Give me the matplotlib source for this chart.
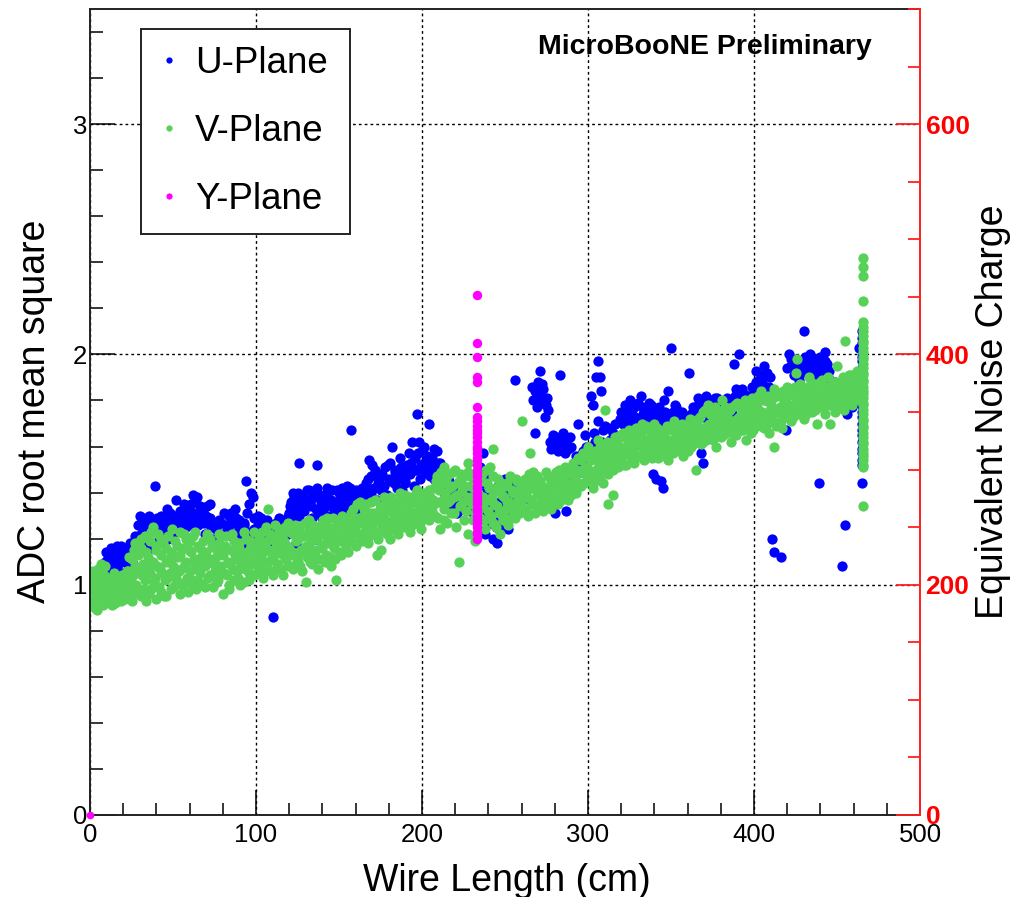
import matplotlib.pyplot as plt
import numpy as np
from matplotlib.lines import Line2D
from matplotlib.ticker import MultipleLocator, FormatStrFormatter

plt.rcParams['font.family'] = ['Liberation Sans', 'DejaVu Sans']

# noise per wire: (wire length [cm], ADC rms)
u_plane = [
    (3, 1.00), (5, 1.03), (6, 1.07), (8, 1.05), (9, 1.10), (10, 1.04), (11, 1.12), (12, 1.08),
    (13, 1.15), (14, 1.06), (15, 1.11), (16, 1.17), (17, 1.09), (18, 1.13), (19, 1.05), (20, 1.16),
    (21, 1.10), (22, 1.14), (23, 1.07), (24, 1.18), (25, 1.12), (26, 1.09), (27, 1.21),
    (28, 1.16), (29, 1.26), (30, 1.30), (31, 1.22), (32, 1.29), (33, 1.18), (34, 1.25), (35, 1.20),
    (36, 1.27), (37, 1.16), (39, 1.43), (40, 1.23), (41, 1.19), (42, 1.26), (43, 1.30), (44, 1.21),
    (45, 1.24), (46, 1.28), (47, 1.20), (48, 1.31), (49, 1.25), (50, 1.22), (51, 1.29), (52, 1.37),
    (53, 1.26), (54, 1.32), (55, 1.23), (56, 1.28), (57, 1.30), (58, 1.25), (59, 1.33), (60, 1.27),
    (61, 1.35), (62, 1.39), (63, 1.36), (63, 1.29), (64, 1.31), (65, 1.26), (66, 1.34), (67, 1.28),
    (68, 1.32), (69, 1.22), (70, 1.30), (71, 1.27), (72, 1.35), (73, 1.25), (74, 1.20),
    (76, 1.24), (77, 1.18), (78, 1.28), (80, 1.22), (82, 1.26), (84, 1.30), (85, 1.31), (86, 1.27),
    (87, 1.20), (88, 1.29), (89, 1.23), (90, 1.25), (91, 1.17), (92, 1.21), (93, 1.27), (94, 1.45),
    (95, 1.19), (96, 1.35), (97, 1.40), (98, 1.38), (99, 1.24),
    (100, 1.22), (101, 1.26), (102, 1.18), (103, 1.29), (104, 1.27), (105, 1.21), (106, 1.16),
    (107, 1.24), (108, 1.19), (110, 0.86), (111, 1.23), (112, 1.27), (113, 1.15), (115, 1.25),
    (116, 1.20), (118, 1.28), (119, 1.22),
    (120, 1.31), (121, 1.36), (122, 1.29), (123, 1.38), (124, 1.33), (124, 1.18), (125, 1.40),
    (126, 1.53), (126, 1.30), (127, 1.35), (128, 1.22), (128, 1.39), (129, 1.32), (130, 1.27),
    (130, 1.15), (131, 1.37), (132, 1.41), (133, 1.34), (134, 1.12), (134, 1.29), (135, 1.38),
    (136, 1.20), (136, 1.33), (137, 1.52), (137, 1.40), (138, 1.31), (139, 1.36), (140, 1.29),
    (141, 1.39), (142, 1.34), (143, 1.42), (144, 1.30), (145, 1.37), (146, 1.41), (147, 1.33),
    (148, 1.36), (149, 1.30), (150, 1.40), (151, 1.35), (152, 1.42), (153, 1.31), (154, 1.38),
    (155, 1.43), (156, 1.34), (157, 1.67), (157, 1.39), (158, 1.32), (159, 1.37), (160, 1.41),
    (161, 1.35), (162, 1.30), (163, 1.39), (164, 1.42),
    (165, 1.38), (166, 1.44), (167, 1.40), (168, 1.54), (169, 1.47), (170, 1.52), (171, 1.42),
    (172, 1.49), (173, 1.37), (174, 1.45), (175, 1.41), (176, 1.48), (177, 1.43), (178, 1.51),
    (179, 1.39), (180, 1.46), (181, 1.53), (182, 1.60), (183, 1.44), (184, 1.50), (185, 1.42),
    (186, 1.47), (187, 1.55), (188, 1.41), (189, 1.49), (190, 1.45), (191, 1.52), (192, 1.57),
    (193, 1.48), (194, 1.62), (195, 1.43), (196, 1.55), (197, 1.74), (197, 1.50), (198, 1.62),
    (199, 1.46), (200, 1.58), (201, 1.53), (202, 1.49), (203, 1.56), (204, 1.70), (204, 1.51),
    (205, 1.47), (206, 1.55), (207, 1.59), (208, 1.50), (209, 1.58), (210, 1.45), (211, 1.53),
    (213, 1.36), (215, 1.42), (217, 1.33), (219, 1.39), (221, 1.31), (223, 1.44), (225, 1.35),
    (227, 1.40), (229, 1.32), (231, 1.47),
    (234, 1.38), (235, 1.51), (236, 1.30), (237, 1.57), (237, 1.44), (238, 1.22), (239, 1.34),
    (240, 1.48), (241, 1.27), (242, 1.40), (243, 1.20), (244, 1.31), (245, 1.18), (246, 1.43),
    (247, 1.25), (248, 1.36), (249, 1.29), (250, 1.46), (251, 1.33), (252, 1.24), (253, 1.40),
    (254, 1.30), (255, 1.37), (256, 1.89), (257, 1.35), (258, 1.42),
    (264, 1.45), (265, 1.37), (266, 1.86), (267, 1.80), (268, 1.66), (268, 1.84), (269, 1.77),
    (270, 1.88), (271, 1.93), (271, 1.82), (272, 1.79), (273, 1.85), (274, 1.73), (275, 1.81),
    (276, 1.76), (277, 1.62), (278, 1.59), (279, 1.65), (280, 1.31), (280, 1.61), (281, 1.64),
    (282, 1.58), (283, 1.91), (283, 1.63), (284, 1.60), (285, 1.66), (286, 1.57), (287, 1.32),
    (287, 1.62), (288, 1.59), (289, 1.64), (290, 1.45), (291, 1.42), (293, 1.56), (294, 1.70),
    (295, 1.54),
    (296, 1.49), (298, 1.65), (299, 1.60), (300, 1.55), (302, 1.82), (303, 1.78), (304, 1.62),
    (305, 1.90), (306, 1.97), (306, 1.71), (307, 1.90), (308, 1.84), (309, 1.67), (310, 1.69),
    (311, 1.58), (313, 1.63), (315, 1.66), (317, 1.60), (319, 1.72),
    (320, 1.75), (321, 1.70), (322, 1.78), (323, 1.68), (324, 1.74), (325, 1.80), (326, 1.72),
    (327, 1.69), (328, 1.77), (329, 1.71), (330, 1.79), (331, 1.67), (332, 1.82), (333, 1.74),
    (334, 1.70), (335, 1.76), (336, 1.68), (337, 1.73), (338, 1.78), (339, 1.48), (339, 1.71),
    (340, 1.75), (341, 1.46), (342, 1.69), (343, 1.77), (344, 1.45), (345, 1.42), (345, 1.72),
    (346, 1.80), (347, 1.70), (348, 1.84), (349, 1.74), (350, 2.03), (350, 1.68), (351, 1.75),
    (352, 1.71), (353, 1.77), (355, 1.69), (357, 1.73), (359, 1.67),
    (361, 1.92), (362, 1.74), (364, 1.70), (365, 1.77), (366, 1.81), (367, 1.75), (368, 1.57),
    (369, 1.53), (369, 1.79), (370, 1.73), (371, 1.82), (372, 1.76), (373, 1.71), (374, 1.80),
    (375, 1.74), (376, 1.78), (377, 1.72), (378, 1.81), (379, 1.75), (380, 1.69), (381, 1.77),
    (383, 1.73), (385, 1.79), (387, 1.74), (388, 1.96), (389, 1.85), (390, 1.80), (391, 2.00),
    (391, 1.83), (393, 1.85), (395, 1.78), (397, 1.82), (398, 1.82), (399, 1.76),
    (401, 1.93), (402, 1.83), (403, 1.89), (404, 1.81), (405, 1.88), (406, 1.95), (407, 1.80),
    (408, 1.92), (409, 1.86), (410, 1.84), (411, 1.20), (412, 1.14), (416, 1.12), (419, 1.67),
    (421, 2.00), (422, 1.95), (423, 1.96), (424, 1.91), (425, 1.98), (426, 1.93), (427, 1.89),
    (428, 1.97), (429, 1.94), (430, 2.10), (431, 1.99), (432, 1.92), (433, 1.95), (434, 2.00),
    (435, 1.88), (436, 1.96), (437, 1.90), (438, 1.94), (439, 1.88), (439, 1.44), (440, 1.99),
    (441, 1.93), (442, 1.91), (443, 2.01), (444, 1.96), (445, 1.93),
    (446, 1.87), (448, 1.82), (450, 1.85), (452, 1.79), (453, 1.08), (455, 1.26), (456, 1.74),
    (457, 1.81), (459, 1.77), (461, 1.84), (463, 2.03), (463, 1.79),
    # second channel of each wire pair
    (4.5, 1.05), (7.5, 1.09), (9.5, 1.14), (11.5, 1.06), (12.5, 1.16), (14.5, 1.12), (16.5, 1.08),
    (18.5, 1.17), (20.5, 1.12), (22.5, 1.06), (24.5, 1.15),
    (29.5, 1.20), (31.5, 1.28), (33.5, 1.23), (35.5, 1.30), (37.5, 1.24), (40.5, 1.29),
    (42.5, 1.21), (44.5, 1.27), (46.5, 1.33), (48.5, 1.26), (50.5, 1.30), (52.5, 1.24),
    (54.5, 1.28), (56.5, 1.35), (58.5, 1.29), (60.5, 1.32), (62.5, 1.26), (64.5, 1.38),
    (66.5, 1.30), (68.5, 1.27), (70.5, 1.34), (72.5, 1.29), (74.5, 1.26),
    (79, 1.27), (81, 1.31), (83, 1.24), (85.5, 1.21), (87.5, 1.33), (89.5, 1.28), (92.5, 1.26),
    (94.5, 1.31), (96.5, 1.23), (98.5, 1.29), (101.5, 1.30), (103.5, 1.24), (106.5, 1.28),
    (109, 1.23), (110.5, 1.26), (112.5, 1.21), (114, 1.29), (117, 1.25), (119.5, 1.30),
    (120.5, 1.34), (122.5, 1.40), (124.5, 1.36), (126.5, 1.38), (128.5, 1.33), (130.5, 1.41),
    (132.5, 1.36), (134.5, 1.39), (136.5, 1.42), (138.5, 1.38), (140.5, 1.33), (142.5, 1.40),
    (144.5, 1.36), (146.5, 1.34), (148.5, 1.41), (150.5, 1.37), (152.5, 1.33), (154.5, 1.40),
    (156.5, 1.42), (158.5, 1.38), (160.5, 1.33), (162.5, 1.40), (164.5, 1.36),
    (165.5, 1.42), (167.5, 1.46), (169.5, 1.40), (171.5, 1.50), (173.5, 1.44), (175.5, 1.47),
    (177.5, 1.39), (179.5, 1.52), (181.5, 1.45), (183.5, 1.49), (185.5, 1.46), (187.5, 1.51),
    (189.5, 1.44), (191.5, 1.48), (193.5, 1.53), (195.5, 1.50), (197.5, 1.57), (199.5, 1.52),
    (201.5, 1.60), (203.5, 1.48), (205.5, 1.52), (207.5, 1.46), (209.5, 1.53), (211.5, 1.49),
    (214, 1.39), (216, 1.45), (218, 1.35), (220, 1.42), (222, 1.37), (224, 1.33), (226, 1.41),
    (228, 1.36), (230, 1.38), (232, 1.42), (234.5, 1.45), (236.5, 1.40), (238.5, 1.37),
    (240.5, 1.33), (242.5, 1.28), (244.5, 1.25), (246.5, 1.36), (248.5, 1.42), (250.5, 1.30),
    (252.5, 1.35), (254.5, 1.44),
    (269.5, 1.83), (272.5, 1.87), (274.5, 1.78), (278.5, 1.63), (281.5, 1.60), (284.5, 1.64),
    (286.5, 1.61), (289.5, 1.60), (292.5, 1.53), (297, 1.58),
    (301, 1.60), (303.5, 1.66), (308.5, 1.62), (312, 1.68), (316, 1.70), (318, 1.64),
    (320.5, 1.72), (322.5, 1.74), (324.5, 1.70), (326.5, 1.76), (328.5, 1.73), (330.5, 1.70),
    (332.5, 1.77), (334.5, 1.73), (336.5, 1.79), (340.5, 1.72), (342.5, 1.74), (344.5, 1.69),
    (346.5, 1.75), (348.5, 1.71), (352.5, 1.78), (354.5, 1.73), (356.5, 1.75), (358.5, 1.71),
    (363, 1.77), (366.5, 1.78), (370.5, 1.80), (372.5, 1.73), (374.5, 1.77), (376.5, 1.81),
    (378.5, 1.76), (380.5, 1.79), (382, 1.75), (384, 1.81), (386, 1.77), (388.5, 1.82),
    (390.5, 1.78), (392, 1.80), (394, 1.83), (396, 1.80), (398.5, 1.86), (400, 1.81),
    (401.5, 1.88), (403.5, 1.84), (405.5, 1.91), (407.5, 1.86), (409.5, 1.90), (420, 1.94),
    (422.5, 1.98), (424.5, 1.94), (426.5, 1.97), (428.5, 1.92), (430.5, 1.96), (432.5, 1.99),
    (434.5, 1.93), (436.5, 1.98), (438.5, 1.92), (440.5, 1.95), (442.5, 1.97), (444.5, 1.90),
    (447, 1.84), (449, 1.88), (451, 1.82), (454, 1.86), (458, 1.80), (460, 1.86), (462, 1.82),
]

# longest U wires, all at 465 cm
u_long_rms = [1.44, 1.52, 1.54, 1.57, 1.59, 1.62, 1.65, 1.67, 1.70, 1.73, 1.75, 1.78, 1.81,
              1.83, 1.86, 1.89, 1.91, 1.94, 1.97, 1.99, 2.02, 2.05, 2.07, 2.10]

v_plane = [
    (1, 0.98), (1, 1.02), (2, 0.93), (2, 1.05), (3, 0.99), (3, 0.90), (4, 1.03), (4, 0.96),
    (5, 1.07), (5, 0.94), (6, 1.00), (7, 0.97), (7, 1.04), (8, 0.91), (8, 1.01), (9, 0.95),
    (9, 1.08), (10, 0.99), (10, 1.03),
    (11, 0.93), (11, 1.02), (12, 1.00), (13, 0.96), (13, 1.03), (14, 1.01), (15, 0.92), (15, 0.99),
    (16, 1.00), (17, 1.01), (17, 0.95), (18, 0.97), (19, 1.04), (20, 0.98), (20, 1.03), (21, 0.94),
    (22, 1.02), (22, 1.06), (23, 1.06), (24, 0.99), (25, 1.11), (25, 0.96), (26, 1.04), (27, 1.18),
    (27, 1.08), (28, 1.00), (29, 1.13), (30, 1.05),
    (31, 0.95), (31, 1.16), (32, 1.09), (33, 1.21), (33, 1.02), (34, 0.93), (35, 1.12), (36, 1.05),
    (36, 1.19), (37, 0.98), (38, 1.25), (38, 1.10), (39, 1.03), (40, 0.94), (40, 1.15), (41, 1.22),
    (42, 1.07), (43, 0.97), (43, 1.13), (44, 1.18), (45, 1.02), (46, 1.10), (46, 0.95), (47, 1.21),
    (48, 1.05), (49, 1.14), (50, 0.99), (50, 1.08), (51, 1.19), (52, 1.03), (53, 1.12), (54, 0.96),
    (54, 1.23), (55, 1.07), (56, 1.16), (57, 1.01), (58, 1.10), (58, 1.20), (59, 0.97), (60, 1.06),
    (61, 1.14), (62, 1.02), (62, 1.21), (63, 1.09), (64, 0.98), (65, 1.17), (66, 1.05), (67, 1.12),
    (68, 1.00), (68, 1.19), (69, 1.08), (70, 1.14), (71, 1.03), (72, 1.20), (73, 1.10), (74, 0.99),
    (75, 1.06), (75, 1.16), (76, 1.12), (77, 1.02), (78, 1.18), (79, 1.08), (80, 0.96), (80, 1.13),
    (81, 1.05), (82, 1.21), (83, 1.10), (84, 1.00), (85, 1.15), (86, 1.07), (87, 1.19), (88, 1.11),
    (89, 1.03), (90, 1.16), (91, 1.08), (92, 1.13), (93, 1.01), (94, 1.20), (95, 1.10), (96, 1.05),
    (97, 1.17), (98, 1.12), (99, 1.04), (100, 1.15),
    (101, 1.08), (102, 1.20), (103, 1.12), (104, 1.03), (105, 1.17), (106, 1.25), (107, 1.33),
    (107, 1.10), (108, 1.15), (109, 1.06), (110, 1.21), (111, 1.13), (112, 1.18), (113, 1.09),
    (114, 1.24), (115, 1.14), (116, 1.04), (117, 1.19), (118, 1.11), (119, 1.27), (120, 1.16),
    (121, 1.08), (122, 1.22), (123, 1.13), (124, 1.19), (125, 1.10), (126, 1.25), (127, 1.15),
    (128, 1.06), (129, 1.21), (130, 1.01), (130, 1.17), (131, 1.12), (132, 1.28), (133, 1.19),
    (134, 1.09), (135, 1.23), (136, 1.15), (137, 1.20), (138, 1.11), (139, 1.26), (140, 1.17),
    (141, 1.22), (142, 1.13), (143, 1.29), (144, 1.18), (145, 1.08), (146, 1.24), (147, 1.16),
    (148, 1.02), (148, 1.21), (149, 1.27), (150, 1.14), (151, 1.19), (152, 1.30), (153, 1.23),
    (154, 1.17), (155, 1.25),
    (156, 1.20), (157, 1.31), (158, 1.24), (159, 1.18), (160, 1.28), (161, 1.35), (162, 1.22),
    (163, 1.27), (164, 1.19), (165, 1.33), (166, 1.25), (167, 1.29), (168, 1.21), (169, 1.36),
    (170, 1.26), (171, 1.31), (172, 1.23), (173, 1.13), (174, 1.29), (175, 1.15), (175, 1.34),
    (176, 1.25), (177, 1.38), (178, 1.28), (179, 1.22), (180, 1.32), (181, 1.26), (182, 1.36),
    (183, 1.29), (184, 1.24), (185, 1.34), (186, 1.27), (187, 1.40), (188, 1.31), (189, 1.25),
    (190, 1.35), (191, 1.29), (192, 1.38), (193, 1.32), (194, 1.26), (195, 1.36), (196, 1.30),
    (197, 1.41), (198, 1.33), (199, 1.27), (200, 1.37), (201, 1.31), (202, 1.39), (203, 1.34),
    (204, 1.28), (205, 1.38), (206, 1.32),
    (207, 1.42), (208, 1.30), (209, 1.47), (210, 1.36), (211, 1.24), (212, 1.44), (213, 1.51),
    (213, 1.33), (214, 1.40), (215, 1.27), (216, 1.48), (217, 1.37), (218, 1.43), (219, 1.31),
    (220, 1.50), (221, 1.39), (222, 1.10), (222, 1.45), (223, 1.34), (224, 1.41), (225, 1.28),
    (226, 1.47), (227, 1.38), (228, 1.22), (228, 1.53), (229, 1.43), (230, 1.35), (231, 1.46),
    (232, 1.31), (232, 1.19),
    (234, 1.40), (235, 1.29), (236, 1.48), (237, 1.35), (238, 1.24), (239, 1.44), (240, 1.32),
    (241, 1.51), (242, 1.38), (243, 1.59), (243, 1.27), (244, 1.42), (245, 1.34), (246, 1.46),
    (247, 1.22), (248, 1.39), (249, 1.30), (250, 1.43), (251, 1.36), (252, 1.26), (253, 1.47),
    (254, 1.33), (255, 1.40), (256, 1.29), (257, 1.45), (258, 1.37), (259, 1.31), (260, 1.71),
    (260, 1.42),
    (261, 1.33), (262, 1.46), (263, 1.38), (264, 1.30), (265, 1.57), (265, 1.42), (266, 1.35),
    (267, 1.49), (268, 1.31), (269, 1.40), (270, 1.34), (271, 1.45), (272, 1.37), (273, 1.32),
    (274, 1.42), (275, 1.36), (276, 1.47), (277, 1.39), (278, 1.33), (279, 1.44), (280, 1.38),
    (281, 1.49), (282, 1.35), (283, 1.42), (284, 1.46), (285, 1.39), (286, 1.51), (287, 1.44),
    (288, 1.37), (289, 1.48), (290, 1.42), (291, 1.53), (292, 1.46), (293, 1.40), (294, 1.55),
    (295, 1.49),
    (296, 1.43), (297, 1.57), (298, 1.51), (299, 1.45), (300, 1.60), (301, 1.48), (302, 1.54),
    (303, 1.42), (304, 1.58), (305, 1.50), (306, 1.63), (307, 1.47), (308, 1.55), (309, 1.44),
    (310, 1.76), (310, 1.59), (311, 1.52), (312, 1.35), (312, 1.48), (313, 1.61), (314, 1.55),
    (315, 1.39), (315, 1.50), (316, 1.64), (317, 1.57), (318, 1.51), (319, 1.60), (320, 1.54),
    (321, 1.66), (322, 1.58), (323, 1.52), (324, 1.62), (325, 1.56),
    (326, 1.65), (327, 1.59), (328, 1.53), (329, 1.68), (330, 1.61), (331, 1.56), (332, 1.66),
    (333, 1.60), (334, 1.54), (335, 1.69), (336, 1.62), (337, 1.57), (338, 1.64), (339, 1.59),
    (340, 1.70), (341, 1.63), (342, 1.55), (343, 1.67), (344, 1.61), (345, 1.58), (346, 1.66),
    (347, 1.60), (348, 1.54), (349, 1.68), (350, 1.62), (351, 1.57), (352, 1.71), (353, 1.64),
    (354, 1.59), (355, 1.67), (356, 1.61), (357, 1.56), (358, 1.69), (359, 1.63), (360, 1.58),
    (361, 1.66), (362, 1.60), (363, 1.70), (364, 1.64), (365, 1.50),
    (366, 1.72), (367, 1.66), (368, 1.61), (369, 1.75), (370, 1.68), (371, 1.63), (372, 1.78),
    (373, 1.70), (374, 1.65), (375, 1.73), (376, 1.67), (377, 1.60), (378, 1.76), (379, 1.69),
    (380, 1.64), (381, 1.80), (382, 1.72), (383, 1.66), (384, 1.74), (385, 1.69), (386, 1.62),
    (387, 1.77), (388, 1.71), (389, 1.65), (390, 1.79), (391, 1.73), (392, 1.67), (393, 1.75),
    (394, 1.70), (395, 1.63), (396, 1.78), (397, 1.72), (398, 1.66), (399, 1.81), (400, 1.74),
    (401, 1.69),
    (402, 1.77), (403, 1.71), (404, 1.84), (405, 1.75), (406, 1.68), (407, 1.80), (408, 1.73),
    (409, 1.66), (410, 1.78), (411, 1.72), (412, 1.60), (412, 1.85), (413, 1.76), (414, 1.70),
    (415, 1.82), (416, 1.74), (417, 1.68), (418, 1.79), (419, 1.73), (420, 1.86), (421, 1.77),
    (422, 1.71), (423, 1.83), (424, 1.76), (425, 1.92), (426, 1.98), (426, 1.80),
    (427, 1.74), (428, 1.87), (429, 1.79), (430, 1.72), (431, 1.84), (432, 1.77), (433, 1.90),
    (434, 1.81), (435, 1.75), (436, 1.86), (437, 1.79), (438, 1.70), (439, 1.83), (440, 1.77),
    (441, 1.89), (442, 1.81), (443, 1.74), (444, 1.85), (445, 1.78), (446, 1.70), (447, 1.87),
    (448, 1.80), (449, 1.75), (450, 1.95), (450, 1.84), (451, 1.78), (452, 1.88), (453, 1.81),
    (454, 1.76), (455, 2.06), (455, 1.86), (456, 1.80), (457, 1.91), (458, 1.83), (459, 1.78),
    (460, 1.89), (461, 1.82), (462, 1.93), (463, 1.86), (464, 1.80),
    # second channel of each wire pair
    (0.5, 0.92), (1.5, 1.06), (2.5, 0.97), (3.5, 1.01), (4.5, 0.89), (5.5, 1.00), (6.5, 1.09),
    (7.5, 0.94), (8.5, 1.04), (9.5, 0.97),
    (10.5, 1.01), (11.5, 0.98), (12.5, 0.99), (13.5, 0.91), (14.5, 1.05), (15.5, 1.02),
    (16.5, 0.97), (17.5, 1.03), (18.5, 0.93), (19.5, 1.00), (20.5, 1.01), (21.5, 1.05),
    (22.5, 0.97), (23.5, 1.12), (24.5, 1.03), (25.5, 0.93), (26.5, 1.15), (27.5, 0.99),
    (28.5, 1.07), (29.5, 0.96),
    (30.5, 1.20), (31.5, 1.04), (32.5, 0.98), (33.5, 1.14), (34.5, 1.07), (35.5, 0.96),
    (36.5, 1.23), (37.5, 1.09), (38.5, 1.01), (39.5, 1.17), (40.5, 1.08), (41.5, 0.99),
    (42.5, 1.20), (43.5, 1.05), (44.5, 0.95), (45.5, 1.16), (46.5, 1.03), (47.5, 1.11),
    (48.5, 0.98), (49.5, 1.24), (50.5, 1.12), (51.5, 1.00), (52.5, 1.17), (53.5, 1.06),
    (54.5, 1.13), (55.5, 1.00), (56.5, 1.22), (57.5, 1.09), (58.5, 1.03), (59.5, 1.15),
    (60.5, 1.19), (61.5, 1.00), (62.5, 1.11), (63.5, 1.23), (64.5, 1.07), (65.5, 1.01),
    (66.5, 1.16), (67.5, 1.08), (68.5, 1.13), (69.5, 0.99), (70.5, 1.22), (71.5, 1.11),
    (72.5, 1.04), (73.5, 1.17), (74.5, 1.09), (76.5, 1.01), (77.5, 1.22), (78.5, 1.06),
    (79.5, 1.15), (81.5, 1.17), (82.5, 1.04), (83.5, 0.98), (84.5, 1.09), (85.5, 1.22),
    (86.5, 1.02), (87.5, 1.13), (88.5, 1.06), (89.5, 1.18), (90.5, 1.00), (91.5, 1.11),
    (92.5, 1.23), (93.5, 1.07), (94.5, 1.14), (95.5, 1.02), (96.5, 1.19), (97.5, 1.09),
    (98.5, 1.23), (99.5, 1.13),
    (100.5, 1.05), (101.5, 1.18), (102.5, 1.09), (103.5, 1.23), (104.5, 1.14), (105.5, 1.06),
    (106.5, 1.19), (108.5, 1.22), (109.5, 1.12), (110.5, 1.04), (111.5, 1.26), (112.5, 1.09),
    (113.5, 1.16), (114.5, 1.07), (115.5, 1.21), (116.5, 1.13), (117.5, 1.25), (118.5, 1.17),
    (119.5, 1.08), (120.5, 1.23), (121.5, 1.14), (122.5, 1.07), (123.5, 1.26), (124.5, 1.11),
    (125.5, 1.20), (126.5, 1.08), (127.5, 1.22), (128.5, 1.14), (129.5, 1.27), (131.5, 1.23),
    (132.5, 1.10), (133.5, 1.15), (134.5, 1.26), (135.5, 1.12), (136.5, 1.21), (137.5, 1.07),
    (138.5, 1.24), (139.5, 1.16), (140.5, 1.28), (141.5, 1.10), (142.5, 1.19), (143.5, 1.25),
    (144.5, 1.12), (145.5, 1.21), (146.5, 1.29), (147.5, 1.11), (149.5, 1.19), (150.5, 1.25),
    (151.5, 1.13), (152.5, 1.22), (153.5, 1.18), (154.5, 1.28),
    (155.5, 1.14), (156.5, 1.27), (157.5, 1.21), (158.5, 1.33), (159.5, 1.24), (160.5, 1.17),
    (161.5, 1.29), (162.5, 1.36), (163.5, 1.21), (164.5, 1.30), (165.5, 1.23), (166.5, 1.35),
    (167.5, 1.18), (168.5, 1.27), (169.5, 1.31), (170.5, 1.22), (171.5, 1.37), (172.5, 1.28),
    (173.5, 1.20), (174.5, 1.33), (176.5, 1.30), (177.5, 1.23), (178.5, 1.35), (179.5, 1.27),
    (180.5, 1.20), (181.5, 1.38), (182.5, 1.24), (183.5, 1.33), (184.5, 1.28), (185.5, 1.22),
    (186.5, 1.37), (187.5, 1.30), (188.5, 1.26), (189.5, 1.39), (190.5, 1.28), (191.5, 1.34),
    (192.5, 1.23), (193.5, 1.36), (194.5, 1.31), (195.5, 1.28), (196.5, 1.40), (197.5, 1.29),
    (198.5, 1.35), (199.5, 1.24), (200.5, 1.33), (201.5, 1.40), (202.5, 1.29), (203.5, 1.36),
    (204.5, 1.41), (205.5, 1.30), (206.5, 1.37),
    (207.5, 1.35), (208.5, 1.45), (209.5, 1.29), (210.5, 1.41), (211.5, 1.49), (212.5, 1.37),
    (213.5, 1.28), (214.5, 1.46), (215.5, 1.36), (216.5, 1.42), (217.5, 1.31), (218.5, 1.49),
    (219.5, 1.38), (220.5, 1.25), (221.5, 1.44), (223.5, 1.48), (224.5, 1.36), (225.5, 1.43),
    (226.5, 1.32), (227.5, 1.49), (229.5, 1.38), (230.5, 1.28), (231.5, 1.42),
    (234.5, 1.33), (235.5, 1.45), (236.5, 1.38), (237.5, 1.28), (238.5, 1.50), (239.5, 1.37),
    (240.5, 1.42), (241.5, 1.30), (242.5, 1.47), (243.5, 1.35), (244.5, 1.25), (245.5, 1.41),
    (246.5, 1.31), (247.5, 1.44), (248.5, 1.28), (249.5, 1.38), (250.5, 1.33), (251.5, 1.44),
    (252.5, 1.36), (253.5, 1.29), (254.5, 1.41), (255.5, 1.34), (256.5, 1.46), (257.5, 1.32),
    (258.5, 1.41), (259.5, 1.36),
    (260.5, 1.38), (261.5, 1.44), (262.5, 1.33), (263.5, 1.41), (264.5, 1.48), (265.5, 1.37),
    (266.5, 1.44), (267.5, 1.35), (268.5, 1.42), (269.5, 1.47), (270.5, 1.39), (271.5, 1.33),
    (272.5, 1.43), (273.5, 1.38), (274.5, 1.49), (275.5, 1.41), (276.5, 1.34), (277.5, 1.45),
    (278.5, 1.40), (279.5, 1.36), (280.5, 1.46), (281.5, 1.41), (282.5, 1.50), (283.5, 1.37),
    (284.5, 1.43), (285.5, 1.48), (286.5, 1.40), (287.5, 1.50), (288.5, 1.43), (289.5, 1.39),
    (290.5, 1.51), (291.5, 1.45), (292.5, 1.41), (293.5, 1.50), (294.5, 1.44),
    (295.5, 1.54), (296.5, 1.49), (297.5, 1.44), (298.5, 1.56), (299.5, 1.51), (300.5, 1.46),
    (301.5, 1.58), (302.5, 1.49), (303.5, 1.55), (304.5, 1.45), (305.5, 1.57), (306.5, 1.52),
    (307.5, 1.60), (308.5, 1.49), (309.5, 1.56), (310.5, 1.51), (311.5, 1.62), (312.5, 1.56),
    (313.5, 1.50), (314.5, 1.60), (316.5, 1.53), (317.5, 1.62), (318.5, 1.56), (319.5, 1.65),
    (320.5, 1.58), (321.5, 1.52), (322.5, 1.64), (323.5, 1.57), (324.5, 1.67),
    (325.5, 1.61), (326.5, 1.55), (327.5, 1.66), (328.5, 1.60), (329.5, 1.64), (330.5, 1.56),
    (331.5, 1.62), (332.5, 1.70), (333.5, 1.57), (334.5, 1.63), (335.5, 1.58), (336.5, 1.67),
    (337.5, 1.61), (338.5, 1.55), (339.5, 1.65), (340.5, 1.59), (341.5, 1.68), (342.5, 1.62),
    (343.5, 1.58), (344.5, 1.66), (345.5, 1.62), (346.5, 1.56), (347.5, 1.69), (348.5, 1.63),
    (349.5, 1.59), (350.5, 1.67), (351.5, 1.63), (352.5, 1.58), (353.5, 1.68), (354.5, 1.62),
    (355.5, 1.58), (356.5, 1.70), (357.5, 1.64), (358.5, 1.60), (359.5, 1.68), (360.5, 1.62),
    (361.5, 1.72), (362.5, 1.66), (363.5, 1.61), (364.5, 1.68),
    (365.5, 1.70), (366.5, 1.64), (367.5, 1.73), (368.5, 1.67), (369.5, 1.62), (370.5, 1.76),
    (371.5, 1.69), (372.5, 1.65), (373.5, 1.74), (374.5, 1.68), (375.5, 1.63), (376.5, 1.77),
    (377.5, 1.71), (378.5, 1.66), (379.5, 1.74), (380.5, 1.70), (381.5, 1.65), (382.5, 1.77),
    (383.5, 1.70), (384.5, 1.67), (385.5, 1.76), (386.5, 1.71), (387.5, 1.66), (388.5, 1.78),
    (389.5, 1.72), (390.5, 1.68), (391.5, 1.77), (392.5, 1.73), (393.5, 1.67), (394.5, 1.80),
    (395.5, 1.74), (396.5, 1.69), (397.5, 1.77), (398.5, 1.71), (399.5, 1.67), (400.5, 1.79),
    (401.5, 1.73), (402.5, 1.82), (403.5, 1.75), (404.5, 1.69), (405.5, 1.80), (406.5, 1.74),
    (407.5, 1.69), (408.5, 1.82), (409.5, 1.76), (410.5, 1.71), (411.5, 1.81), (412.5, 1.75),
    (413.5, 1.69), (414.5, 1.83), (415.5, 1.77), (416.5, 1.71), (417.5, 1.84), (418.5, 1.76),
    (419.5, 1.81), (420.5, 1.74), (421.5, 1.83), (422.5, 1.78), (423.5, 1.73), (424.5, 1.86),
    (425.5, 1.79),
    (426.5, 1.76), (427.5, 1.83), (428.5, 1.77), (429.5, 1.86), (430.5, 1.80), (431.5, 1.74),
    (432.5, 1.85), (433.5, 1.79), (434.5, 1.88), (435.5, 1.82), (436.5, 1.76), (437.5, 1.84),
    (438.5, 1.78), (439.5, 1.88), (440.5, 1.82), (441.5, 1.77), (442.5, 1.86), (443.5, 1.80),
    (444.5, 1.90), (445.5, 1.83), (446.5, 1.78), (447.5, 1.84), (448.5, 1.88), (449.5, 1.82),
    (450.5, 1.78), (451.5, 1.86), (452.5, 1.80), (453.5, 1.90), (454.5, 1.84), (455.5, 1.79),
    (456.5, 1.88), (457.5, 1.82), (458.5, 1.91), (459.5, 1.85), (460.5, 1.80), (461.5, 1.89),
    (462.5, 1.84), (463.5, 1.92), (464.5, 1.87),
]

# longest V wires, all at 465.7 cm
v_long_rms = [1.34, 1.51, 1.52, 1.54, 1.56, 1.57, 1.59, 1.61, 1.62, 1.64, 1.66, 1.68, 1.69,
              1.71, 1.72, 1.74, 1.76, 1.78, 1.79, 1.81, 1.83, 1.84, 1.86, 1.88, 1.89, 1.91,
              1.92, 1.94, 1.96, 1.98, 1.99, 2.01, 2.03, 2.05, 2.06, 2.08, 2.10, 2.12, 2.14,
              2.23, 2.34, 2.38, 2.42]

# collection plane: every wire is 233 cm, plus one dead channel
y_len = 233.1
y_rms = [1.20, 1.22, 1.23, 1.25, 1.27, 1.28, 1.30, 1.32, 1.33, 1.35, 1.37, 1.38, 1.40, 1.42,
         1.43, 1.45, 1.47, 1.49, 1.50, 1.52, 1.54, 1.55, 1.57, 1.59, 1.60, 1.62, 1.64, 1.66,
         1.67, 1.69, 1.71, 1.73, 1.77, 1.88, 1.90, 1.99, 2.05, 2.26]
y_dead = (0, 0)

u_long_len = 465.3
v_long_len = 465.7
ENC_PER_ADC = 200

blue = '#0000ff'
green = '#57d157'
magenta = '#ff00ff'

fig = plt.figure(figsize=(10.13, 8.97), dpi=100)
ax = fig.add_axes([0.08885, 0.09142, 0.81935, 0.89855])

u_x, u_y = np.array(u_plane).T
v_x, v_y = np.array(v_plane).T
ms = 7.4
ax.plot(u_x, u_y, 'o', color=blue, ms=ms, mew=0)
ax.plot(np.full(len(u_long_rms), u_long_len), u_long_rms, 'o', color=blue, ms=ms, mew=0)
ax.plot(v_x, v_y, 'o', color=green, ms=ms, mew=0)
ax.plot(np.full(len(v_long_rms), v_long_len), v_long_rms, 'o', color=green, ms=ms, mew=0)
ax.plot(np.full(len(y_rms), y_len), y_rms, 'o', color=magenta, ms=6.8, mew=0)
ax.plot([y_dead[0]], [y_dead[1]], 'o', color=magenta, ms=5.5, mew=0, clip_on=False, zorder=5)

ax.set_xlim(0, 500)
ax.set_ylim(0, 3.5)
ax.xaxis.set_major_locator(MultipleLocator(100))
ax.xaxis.set_minor_locator(MultipleLocator(20))
ax.yaxis.set_major_locator(MultipleLocator(1))
ax.yaxis.set_minor_locator(MultipleLocator(0.2))
ax.yaxis.set_major_formatter(FormatStrFormatter('%d'))
ax.tick_params(which='both', direction='in', top=False, right=False, width=1.1,
               labelsize=18.5, colors='black')
ax.tick_params(which='major', length=18)
ax.tick_params(which='minor', length=9)
ax.tick_params(axis='x', pad=6)
ax.tick_params(axis='y', pad=2)
ax.grid(True, which='major', color='black', linestyle=(0, (2, 2.2)), linewidth=1.0)
for side in ['left', 'bottom', 'top']:
    ax.spines[side].set_linewidth(1.4)
    ax.spines[side].set_color('#222222')
ax.spines['right'].set_visible(False)

# equivalent noise charge scale on the right
ax2 = ax.twinx()
ax2.set_ylim(0, 3.5 * ENC_PER_ADC)
ax2.yaxis.set_major_locator(MultipleLocator(200))
ax2.yaxis.set_minor_locator(MultipleLocator(50))
for side in ['left', 'bottom', 'top']:
    ax2.spines[side].set_visible(False)
ax2.spines['right'].set_color('#ff2020')
ax2.spines['right'].set_linewidth(1.4)
ax2.tick_params(which='both', direction='in', colors='#ff2020', width=1.3, labelsize=19, pad=4)
ax2.tick_params(which='major', length=17)
ax2.tick_params(which='minor', length=8.5)
for lbl in ax2.get_yticklabels():
    lbl.set_fontweight('bold')
    lbl.set_color('red')

fig.text(0.5, 0.018, 'Wire Length (cm)', ha='center', va='center', fontsize=27)
fig.text(0.035, 0.541, 'ADC root mean square', rotation=90, ha='center', va='center', fontsize=27)
fig.text(0.980, 0.541, 'Equivalent Noise Charge', rotation=90, ha='center', va='center', fontsize=27)
ax.text(0.741, 0.953, 'MicroBooNE Preliminary', transform=ax.transAxes, ha='center',
        va='center', fontsize=20.5, fontweight='bold')

# legend box fixed to the same width as the original layout
handles = [Line2D([], [], marker='o', ls='', color=c, ms=4.5, mew=0)
           for c in (blue, green, magenta)]
leg = ax.legend(handles, ['U-Plane', 'V-Plane', 'Y-Plane'], loc='upper left',
                bbox_to_anchor=(0.0614, 0.7246, 0.2518, 0.2504), mode='expand',
                fontsize=26.5, frameon=True, fancybox=False,
                edgecolor='#222222', framealpha=1, borderpad=0.45, labelspacing=0.9,
                handlelength=0.6, handletextpad=0.42, borderaxespad=0)
leg.get_frame().set_linewidth(1.4)
leg.set_zorder(10)

fig.savefig('out.png', dpi=100)
